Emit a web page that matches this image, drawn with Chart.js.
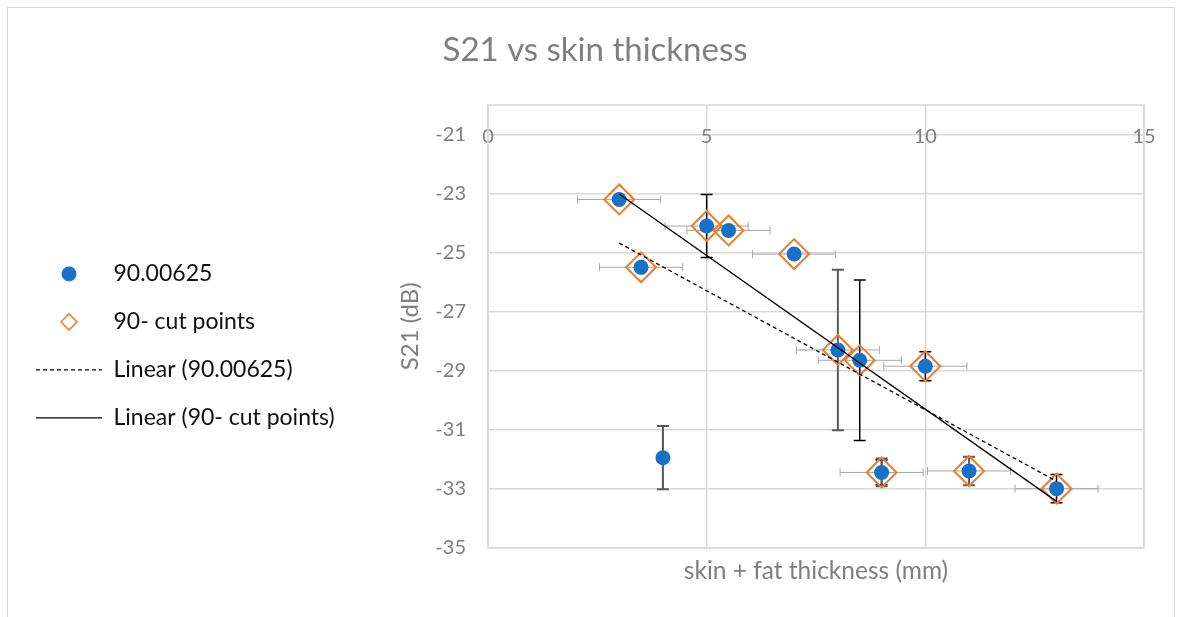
<!DOCTYPE html>
<html>
<head>
<meta charset="utf-8">
<script src="https://cdn.jsdelivr.net/npm/chart.js@4.4.1/dist/chart.umd.min.js"></script>
<style>
  body { margin: 0; background: #fff; }
  #wrap { position: relative; width: 1182px; height: 617px; overflow: hidden; }
  #frame { position: absolute; left: 7px; top: 7px; width: 1166px; height: 640px; border: 1px solid #d9d9d9; }
  canvas { position: absolute; left: 0; top: 0; }
</style>
</head>
<body>
<div id="wrap">
  <div id="frame"></div>
  <canvas id="chart" width="1182" height="617"></canvas>
</div>
<script>
// 90.00625 - all measurements
const allX = [3, 3.5, 5, 5.5, 7, 4, 8, 8.5, 10, 9, 11, 13];
const allS21 = [-23.2, -25.5, -24.1, -24.25, -25.05, -31.95, -28.3, -28.65, -28.85, -32.45, -32.4, -33.0];
const allYErr = [0, 0, 0, 0, 0, 1.07, 2.72, 0, 0, 0.47, 0.48, 0];

// 90- cut points
const cutX = [3, 3.5, 5, 5.5, 7, 8, 8.5, 10, 9, 11, 13];
const cutS21 = [-23.2, -25.5, -24.1, -24.25, -25.05, -28.3, -28.65, -28.85, -32.45, -32.4, -33.0];
const cutXErr = [0.95, 0.95, 0.95, 0.95, 0.95, 0.95, 0.95, 0.95, 0.95, 0.95, 0.95];
const cutYErr = [0, 0, 1.07, 0, 0, 0, 2.72, 0.49, 0.42, 0, 0.48];

const xTicks = [0, 5, 10, 15];
const yTicks = [-35, -33, -31, -29, -27, -25, -23, -21];

const FONT = 'Lato, "Open Sans", sans-serif';
const GREY = '#7f7f7f';
const GRID = '#d9d9d9';
const PLOT_LEFT = 488;
const PAD_LEFT = 11;

function pts(xs, ys) {
    return xs.map((x, i) => ({x: x, y: ys[i]}));
}

// least squares trendline, drawn between the smallest and largest x
function linearFit(xs, ys) {
    const n = xs.length;
    const mx = xs.reduce((a, b) => a + b, 0) / n;
    const my = ys.reduce((a, b) => a + b, 0) / n;
    let sxy = 0, sxx = 0;
    for (let i = 0; i < n; i++) {
        sxy += (xs[i] - mx) * (ys[i] - my);
        sxx += (xs[i] - mx) * (xs[i] - mx);
    }
    const k = sxy / sxx;
    const x0 = Math.min(...xs), x1 = Math.max(...xs);
    return [{x: x0, y: my + k * (x0 - mx)}, {x: x1, y: my + k * (x1 - mx)}];
}

// small canvases for the marker legend symbols
function markerIcon(kind) {
    const c = document.createElement('canvas');
    c.width = 22; c.height = 22;
    const g = c.getContext('2d');
    if (kind === 'circle') {
        g.fillStyle = '#1771c7';
        g.beginPath(); g.arc(11, 11, 7.5, 0, Math.PI * 2); g.fill();
    } else {
        g.strokeStyle = '#ed7d31';
        g.lineWidth = 1.6;
        g.beginPath();
        g.moveTo(3, 11); g.lineTo(11, 3); g.lineTo(19, 11); g.lineTo(11, 19);
        g.closePath(); g.stroke();
    }
    return c;
}

const errorBars = {
    id: 'errorBars',
    beforeDatasetsDraw(chart) {
        const {ctx, scales: {x, y}} = chart;
        ctx.save();
        // horizontal bars of the cut points
        ctx.strokeStyle = '#a6a6a6';
        ctx.lineWidth = 1;
        cutX.forEach((v, i) => {
            const e = cutXErr[i];
            if (!e) return;
            const py = y.getPixelForValue(cutS21[i]);
            const a = x.getPixelForValue(v - e), b = x.getPixelForValue(v + e);
            ctx.beginPath();
            ctx.moveTo(a, py); ctx.lineTo(b, py);
            ctx.moveTo(a, py - 4); ctx.lineTo(a, py + 4);
            ctx.moveTo(b, py - 4); ctx.lineTo(b, py + 4);
            ctx.stroke();
        });
        const vertical = (xs, ys, errs, color, w) => {
            ctx.strokeStyle = color;
            ctx.lineWidth = w;
            xs.forEach((v, i) => {
                const e = errs[i];
                if (!e) return;
                const px = x.getPixelForValue(v);
                const a = y.getPixelForValue(ys[i] + e), b = y.getPixelForValue(ys[i] - e);
                ctx.beginPath();
                ctx.moveTo(px, a); ctx.lineTo(px, b);
                ctx.moveTo(px - 6, a); ctx.lineTo(px + 6, a);
                ctx.moveTo(px - 6, b); ctx.lineTo(px + 6, b);
                ctx.stroke();
            });
        };
        vertical(cutX, cutS21, cutYErr, '#000000', 1.5);
        vertical(allX, allS21, allYErr, '#595959', 2);
        ctx.restore();
    }
};

const plotFrame = {
    id: 'plotFrame',
    afterLayout(chart) {
        // place the legend rows beside the plot
        const lg = chart.legend;
        const h = lg.bottom - lg.top;
        const mid = (chart.chartArea.top + chart.chartArea.bottom) / 2 + 19.5;
        lg.top = mid - h / 2;
        lg.bottom = mid + h / 2;
        // title is centred on the whole canvas, not on the padded area
        const t = chart.titleBlock;
        const shift = chart.width / 2 - (t.left + t.right) / 2 + 4;
        t.left += shift;
        t.right += shift;
    },
    beforeDatasetsDraw(chart) {
        const {ctx, chartArea: a} = chart;
        ctx.save();
        ctx.strokeStyle = GRID;
        ctx.lineWidth = 1.5;
        ctx.strokeRect(a.left, a.top, a.right - a.left, a.bottom - a.top);
        ctx.restore();
    }
};

const ctx = document.getElementById('chart').getContext('2d');

const chart = new Chart(ctx, {
    type: 'scatter',
    data: {
        datasets: [{
            label: '90.00625',
            data: pts(allX, allS21),
            pointStyle: 'circle',
            pointRadius: 7.5,
            pointHoverRadius: 7.5,
            backgroundColor: '#1771c7',
            borderColor: '#1771c7',
            borderWidth: 0,
            order: 1
        }, {
            label: '90- cut points',
            data: pts(cutX, cutS21),
            pointStyle: 'rectRot',
            pointRadius: 15,
            pointHoverRadius: 15,
            backgroundColor: 'rgba(0,0,0,0)',
            borderColor: '#ed7d31',
            borderWidth: 2,
            order: 2
        }, {
            type: 'line',
            label: 'Linear (90.00625)',
            data: linearFit(allX, allS21),
            borderColor: '#000000',
            borderWidth: 1.3,
            borderDash: [4, 3],
            pointRadius: 0,
            pointStyle: 'line',
            fill: false,
            order: 0
        }, {
            type: 'line',
            label: 'Linear (90- cut points)',
            data: linearFit(cutX, cutS21),
            borderColor: '#000000',
            borderWidth: 1.3,
            pointRadius: 0,
            pointStyle: 'line',
            fill: false,
            order: 0
        }]
    },
    options: {
        responsive: false,
        animation: false,
        devicePixelRatio: 1,
        layout: {
            padding: {left: PAD_LEFT, right: 38, top: 0, bottom: 31.6}
        },
        plugins: {
            title: {
                display: true,
                text: 'S21 vs skin thickness',
                color: GREY,
                font: {family: FONT, size: 33, weight: 'normal'},
                padding: {top: 30.2, bottom: 35.2}
            },
            legend: {
                position: 'left',
                align: 'center',
                maxWidth: 420,
                labels: {
                    usePointStyle: true,
                    pointStyleWidth: 66,
                    padding: 25,
                    color: '#111111',
                    font: {family: FONT, size: 23},
                    sort: (a, b) => a.datasetIndex - b.datasetIndex,
                    generateLabels(chart) {
                        const items = Chart.defaults.plugins.legend.labels.generateLabels(chart);
                        items.forEach(it => {
                            const ds = chart.data.datasets[it.datasetIndex];
                            if (it.datasetIndex === 0) it.pointStyle = markerIcon('circle');
                            if (it.datasetIndex === 1) it.pointStyle = markerIcon('diamond');
                            if (it.datasetIndex > 1) {
                                it.lineWidth = 1.3;
                                it.lineDash = ds.borderDash || [];
                            }
                        });
                        return items;
                    }
                }
            },
            tooltip: {enabled: false}
        },
        scales: {
            x: {
                type: 'linear',
                position: 'bottom',
                min: 0,
                max: 15,
                afterBuildTicks: s => { s.ticks = xTicks.map(v => ({value: v})); },
                grid: {color: GRID, lineWidth: 1.5, drawTicks: false},
                border: {color: GRID, width: 1.5},
                ticks: {display: false},
                title: {
                    display: true,
                    text: 'skin + fat thickness (mm)',
                    color: GREY,
                    font: {family: FONT, size: 24.5},
                    padding: {top: 8.3, bottom: 0}
                }
            },
            xLabels: {
                type: 'linear',
                axis: 'x',
                position: {y: -21},
                min: 0,
                max: 15,
                afterBuildTicks: s => { s.ticks = xTicks.map(v => ({value: v})); },
                grid: {display: false, drawTicks: false},
                border: {display: false},
                ticks: {color: GREY, font: {family: FONT, size: 20}, padding: -10, autoSkip: false, maxRotation: 0}
            },
            y: {
                type: 'linear',
                min: -35,
                max: -20,
                afterBuildTicks: s => { s.ticks = yTicks.map(v => ({value: v})); },
                afterFit: s => { s.width = PLOT_LEFT - PAD_LEFT - s.chart.legend.width; },
                grid: {color: GRID, lineWidth: 1.5, drawTicks: false},
                border: {color: GRID, width: 1.5},
                ticks: {color: GREY, font: {family: FONT, size: 20}, padding: 22},
                title: {
                    display: true,
                    text: 'S21 (dB)',
                    color: GREY,
                    font: {family: FONT, size: 24},
                    padding: {top: 40, bottom: 0}
                }
            }
        }
    },
    plugins: [errorBars, plotFrame]
});

// put the y axis title about 78px left of the plot
const yTitle = chart.options.scales.y.title;
yTitle.padding = {top: Math.max(0, PLOT_LEFT - 78 - 14.4 - chart.scales.y.left), bottom: 0};
chart.update();
</script>
</body>
</html>
